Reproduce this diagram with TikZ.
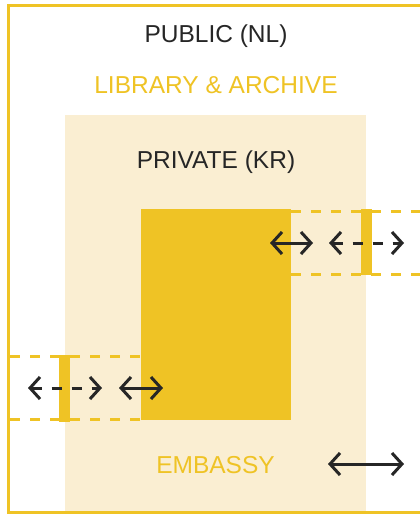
\documentclass[tikz,border=0pt]{standalone}
\usepackage{fontspec}
\setmainfont{Liberation Sans}
\usepackage{tikz}
\usetikzlibrary{arrows.meta,positioning}
\definecolor{ink}{HTML}{262626}
\definecolor{gold}{HTML}{EFC325}
\definecolor{sand}{HTML}{FAEED2}
\tikzset{
  >={Straight Barb[length=10pt,width=22pt,line width=3pt]},
  zone/.style={draw=none,inner sep=0pt,anchor=north west},
  bar/.style={fill=gold,draw=none,inner sep=0pt,anchor=north west,minimum width=11pt},
  border/.style={draw=gold,line width=2.6pt},
  gap/.style={draw=gold,line width=3pt,dash pattern=on 10pt off 10pt},
  pass/.style={<->,draw=ink,line width=3pt},
  passdash/.style={<->,draw=ink,line width=3pt,dash pattern=on 10pt off 10pt},
  lbl/.style={font=\fontsize{24.5}{29}\selectfont,anchor=base,inner sep=0pt},
}

\begin{document}
\begin{tikzpicture}[x=1pt,y=-1pt]
  \clip (0,0) rectangle (420,514);
  \fill[white] (0,0) rectangle (420,514);

  % zones
  \node[zone,fill=sand,minimum width=301pt,minimum height=399pt] (private) at (65,115) {};
  \node[zone,fill=gold,minimum width=150pt,minimum height=211pt] (embassy) at (141,209) {};

  % openings through the walls
  \coordinate (ra) at (291,211);
  \coordinate (rb) at (291,274);
  \coordinate (ra2) at (430,211);
  \coordinate (rb2) at (430,274);
  \draw[gap] (ra) -- (ra2);
  \draw[gap] (rb) -- (rb2);
  \node[bar,minimum height=66pt] (rbar) at (361,209) {};
  \coordinate (la) at (10,356);
  \coordinate (lb) at (10,419);
  \draw[gap] (la) -- (la-|embassy.west);
  \draw[gap] (lb) -- (lb-|embassy.west);
  \node[bar,minimum height=67pt] (lbar) at (59,355) {};

  \draw[border] (8.7,5.3) rectangle (440,512.7);

  % passages
  \coordinate (r1) at (270,243);
  \coordinate (r2) at (313,243);
  \coordinate (r3) at (329,243);
  \coordinate (r4) at (404,243);
  \draw[pass] (r1) -- (r2);
  \draw[passdash] (r3) -- (r4);
  \coordinate (l1) at (28,388);
  \coordinate (l2) at (102,388);
  \coordinate (l3) at (119,388);
  \coordinate (l4) at (163,388);
  \draw[passdash] (l1) -- (l2);
  \draw[pass] (l3) -- (l4);
  \coordinate (e1) at (328,464);
  \coordinate (e2) at (404,464);
  \draw[pass] (e1) -- (e2);

  % labels
  \node[lbl,text=ink] (public) at (216,42.7) {PUBLIC (NL)};
  \node[lbl,text=gold] (library) at (216,93) {LIBRARY \& ARCHIVE};
  \node[lbl,text=ink] (privlbl) at (216,168) {PRIVATE (KR)};
  \node[lbl,text=gold] (emblbl) at (215.5,473) {EMBASSY};
\end{tikzpicture}
\end{document}
